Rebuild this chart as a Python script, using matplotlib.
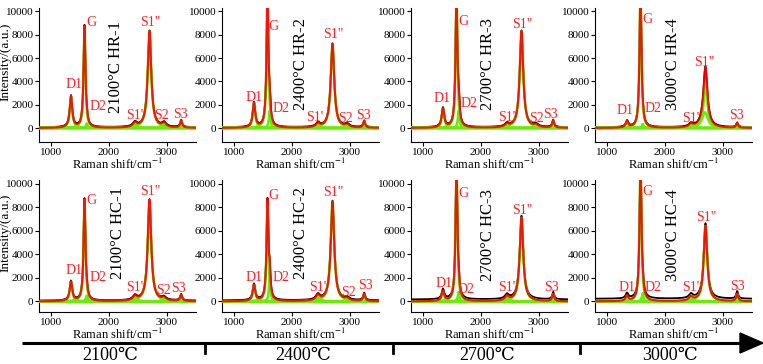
import numpy as np
import matplotlib
matplotlib.use('Agg')
import matplotlib.pyplot as plt

plt.rcParams['font.family'] = ['Liberation Serif', 'DejaVu Serif']
plt.rcParams['mathtext.fontset'] = 'stix'

# peak components (Lorentzian fit bands)
peak_names = ['D1', 'G', 'D2', "S1'", 'S1"', 'S2', 'S3']
peak_pos = [1350, 1582, 1620, 2450, 2700, 2950, 3245]
peak_hwhm = [26, 19, 16, 40, 36, 40, 20]

samples = ['2100°C HR-1', '2400°C HR-2', '2700°C HR-3', '3000°C HR-4',
           '2100°C HC-1', '2400°C HC-2', '2700°C HC-3', '3000°C HC-4']

# peak heights per sample, same order as peak_names (0 = band not fitted)
hr1 = [2700, 8700, 400, 380, 8300, 360, 600]
hr2 = [2100, 11500, 1500, 330, 7200, 250, 560]
hr3 = [1650, 11500, 1500, 280, 8300, 220, 620]
hr4 = [540, 12000, 350, 280, 3900, 0, 390]
hc1 = [1650, 8600, 500, 380, 8600, 250, 540]
hc2 = [1380, 8400, 1900, 450, 8450, 200, 620]
hc3 = [850, 11500, 800, 380, 7100, 0, 620]
hc4 = [450, 12000, 700, 360, 6400, 0, 630]
heights = [hr1, hr2, hr3, hr4, hc1, hc2, hc3, hc4]

# extra broad band under S1" for HR-4
hr4_broad = 1350
# background offset of the measured curve
data_offset = [60, 60, 60, 60, 60, 80, 160, 220]

# label positions (x, y) for each band, per sample
lab_hr1 = [(1400, 3700), (1710, 9060), (1810, 1880), (2445, 1110), (2720, 9060), (2905, 1100), (3225, 1200)]
lab_hr2 = [(1345, 2630), (1690, 8730), (1815, 1690), (2390, 930), (2720, 8050), (2925, 800), (3230, 1100)]
lab_hr3 = [(1335, 2500), (1710, 9150), (1805, 2100), (2440, 900), (2710, 8850), (2950, 800), (3205, 1200)]
lab_hr4 = [(1320, 1500), (1700, 9300), (1790, 1660), (2440, 800), (2680, 5600), None, (3230, 1080)]
lab_hc1 = [(1400, 2630), (1695, 8580), (1815, 2060), (2445, 1200), (2720, 9300), (2935, 930), (3205, 1100)]
lab_hc2 = [(1350, 2060), (1685, 9000), (1810, 2060), (2450, 1210), (2710, 9280), (2970, 790), (3260, 1360)]
lab_hc3 = [(1370, 1500), (1710, 9150), (1745, 1000), (2450, 1210), (2710, 7730), None, (3210, 1210)]
lab_hc4 = [(1350, 1160), (1700, 9290), (1790, 1160), (2440, 1160), (2720, 7160), None, (3250, 1270)]
labels_xy = [lab_hr1, lab_hr2, lab_hr3, lab_hr4, lab_hc1, lab_hc2, lab_hc3, lab_hc4]
sample_xy = [(2120, 5200), (2160, 5500), (2130, 5500), (2140, 5500),
             (2155, 5770), (2160, 5770), (2130, 5600), (2140, 5600)]

temps = ['2100℃', '2400℃', '2700℃', '3000℃']

x = np.linspace(800, 3500, 3000)


def lorentz(x, x0, g, h):
    return h * g**2 / ((x - x0)**2 + g**2)


W, H = 763, 364
fig = plt.figure(figsize=(W / 100, H / 100), dpi=100)

lefts = [39, 222, 411, 595]
rows = [(8, 142, -1200), (180, 312, -900)]
aw = 157

for i in range(8):
    r, c = divmod(i, 4)
    top, bot, ymin = rows[r]
    ax = fig.add_axes([lefts[c] / W, 1 - bot / H, aw / W, (bot - top) / H])

    comps = []
    for k in range(len(peak_names)):
        if heights[i][k] > 0:
            comps.append(lorentz(x, peak_pos[k], peak_hwhm[k], heights[i][k]))
    if i == 3:
        comps.append(lorentz(x, 2690, 60, hr4_broad))
    fit = np.sum(comps, axis=0)

    ax.plot(x, fit + data_offset[i], color='black', lw=1.3, zorder=2)
    for cc in comps:
        ax.plot(x, cc, color='#66ee00', lw=1.8, zorder=3)
    ax.plot(x, fit, color='#ff0000', lw=1.5, zorder=4, alpha=0.9)

    for k, name in enumerate(peak_names):
        xy = labels_xy[i][k]
        if xy is None:
            continue
        ax.text(xy[0], xy[1], name, color='#ff2020', fontsize=10,
                ha='center', va='center', zorder=5)
    ax.text(sample_xy[i][0], sample_xy[i][1], samples[i], rotation=90,
            fontsize=12, ha='center', va='center', zorder=5)

    ax.set_xlim(800, 3500)
    ax.set_ylim(ymin, 10300)
    ax.set_xticks([1000, 2000, 3000])
    ax.set_yticks([0, 2000, 4000, 6000, 8000, 10000])
    ax.tick_params(labelsize=8, length=3, width=0.8, pad=1)
    for s in ['top', 'right']:
        ax.spines[s].set_visible(False)
    ax.spines['left'].set_linewidth(0.8)
    ax.spines['bottom'].set_linewidth(0.8)
    ax.set_xlabel(r'Raman shift/cm$^{-1}$', fontsize=9, labelpad=0)
    if c == 0:
        ax.set_ylabel('Intensity/(a.u.)', fontsize=9.5, va='center')
        ax.yaxis.set_label_coords(-0.216, 0.6)

# temperature arrow along the bottom
ov = fig.add_axes([0, 0, 1, 1])
ov.set_xlim(0, W)
ov.set_ylim(H, 0)
ov.axis('off')
ov.plot([22, 742], [343, 343], color='black', lw=2.2, solid_capstyle='butt')
ov.fill([740, 763, 740], [333, 343, 353], color='black')
for tx in [205, 393, 580]:
    ov.plot([tx, tx], [343, 353], color='black', lw=2)
for tx, t in zip([110, 303, 487, 670], temps):
    ov.text(tx, 356, t, fontsize=13, ha='center', va='center')

fig.savefig('out.png', dpi=100)
